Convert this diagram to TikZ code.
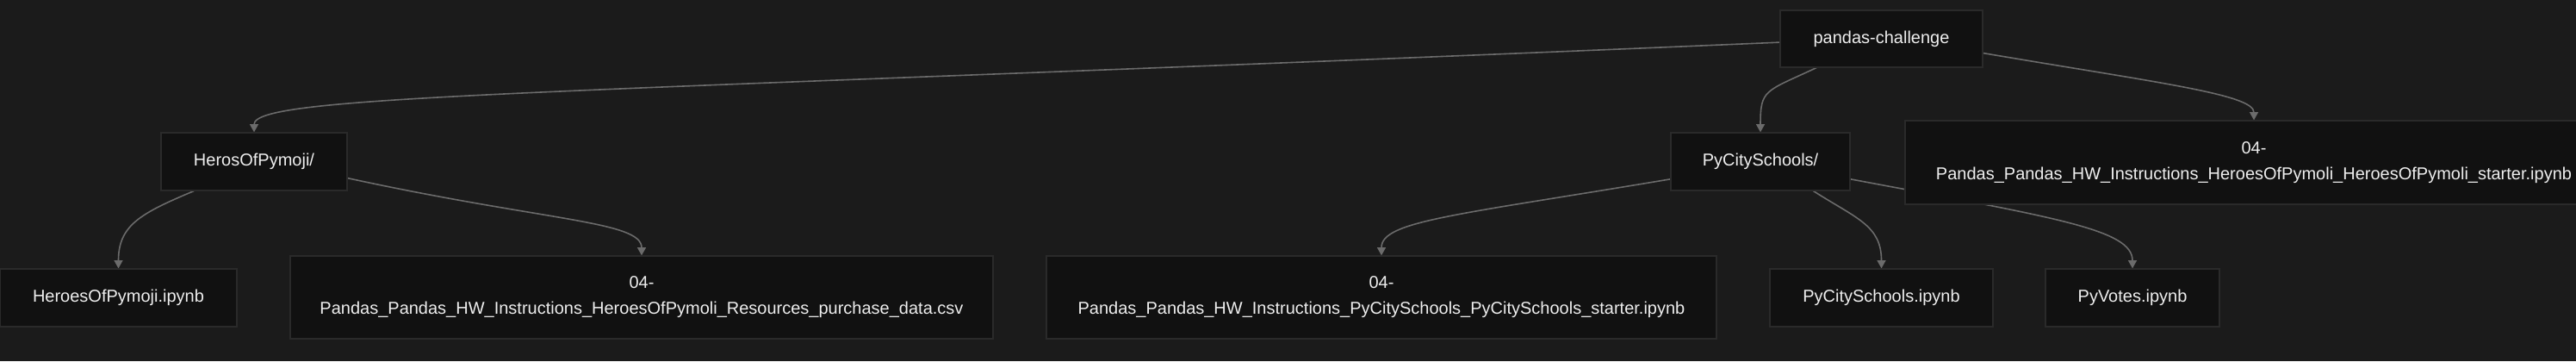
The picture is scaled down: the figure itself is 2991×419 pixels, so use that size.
\documentclass[tikz,border=0pt]{standalone}
\usepackage{fontspec}
\setmainfont{Liberation Sans}
\usetikzlibrary{arrows.meta}
\definecolor{PageBg}{RGB}{27,27,27}
\definecolor{BoxFill}{RGB}{17,17,17}
\definecolor{BoxLine}{RGB}{42,42,42}
\definecolor{EdgeGray}{RGB}{107,107,107}
\definecolor{LabelWhite}{RGB}{238,238,238}
\pgfdeclarelayer{back}
\pgfdeclarelayer{edges}
\pgfsetlayers{back,edges,main}
\tikzset{
  box/.style={draw=BoxLine,fill=BoxFill,line width=0.6pt,text=LabelWhite,
    font=\fontsize{10}{15}\selectfont,align=center,inner sep=0pt,minimum height=33.5pt},
  tallbox/.style={box,minimum height=48pt},
  link/.style={draw=EdgeGray,line width=0.8pt,-{Triangle[length=4.7pt,width=5pt]}},
}
\begin{document}
\begin{tikzpicture}[x=0.5pt,y=0.5pt]
\useasboundingbox (0,0) rectangle (2991,419);
\begin{pgfonlayer}{back}
\fill[PageBg] (0,0) rectangle (2991,419);
\end{pgfonlayer}
\node[box,minimum width=117.5pt,minimum height=33pt] (root) at (2184.5,374) {pandas-challenge};
\node[box,minimum width=108pt] (heros) at (295,231.5) {HerosOfPymoji/};
\node[box,minimum width=104pt] (pycity) at (2044,231.5) {PyCitySchools/};
\node[tallbox,minimum width=405pt,minimum height=48.5pt] (hstarter) at (2617,230.5)
  {04-\\Pandas\_Pandas\_HW\_Instructions\_HeroesOfPymoli\_HeroesOfPymoli\_starter.ipynb};
\node[box,minimum width=137.5pt] (hipynb) at (137.5,73.5) {HeroesOfPymoji.ipynb};
\node[tallbox,minimum width=408pt] (purchase) at (745,74)
  {04-\\Pandas\_Pandas\_HW\_Instructions\_HeroesOfPymoli\_Resources\_purchase\_data.csv};
\node[tallbox,minimum width=389pt] (pstarter) at (1604,74)
  {04-\\Pandas\_Pandas\_HW\_Instructions\_PyCitySchools\_PyCitySchools\_starter.ipynb};
\node[box,minimum width=129.5pt] (pcipynb) at (2184.5,73.5) {PyCitySchools.ipynb};
\node[box,minimum width=101pt] (pyvotes) at (2476,73.5) {PyVotes.ipynb};
\begin{pgfonlayer}{edges}
\draw[link] (root.182) .. controls +(-1400,-60) and +(0,45) .. (heros.north);
\draw[link] (root.204) .. controls +(-60,-28) and +(0,50) .. (pycity.north);
\draw[link] (root.352) .. controls +(200,-34) and +(0,30) .. (hstarter.north);
\draw[link] (heros.206) .. controls +(-62,-26) and +(0,50) .. (hipynb.north);
\draw[link] (heros.350) .. controls +(230,-50) and +(0,40) .. (purchase.north);
\draw[link] (pycity.191) .. controls +(-250,-42) and +(0,40) .. (pstarter.north);
\draw[link] (pycity.331) .. controls +(50,-32) and +(0,50) .. (pcipynb.north);
\draw[link] (pycity.349) .. controls +(240,-45) and +(0,45) .. (pyvotes.north);
\end{pgfonlayer}
\end{tikzpicture}
\end{document}
